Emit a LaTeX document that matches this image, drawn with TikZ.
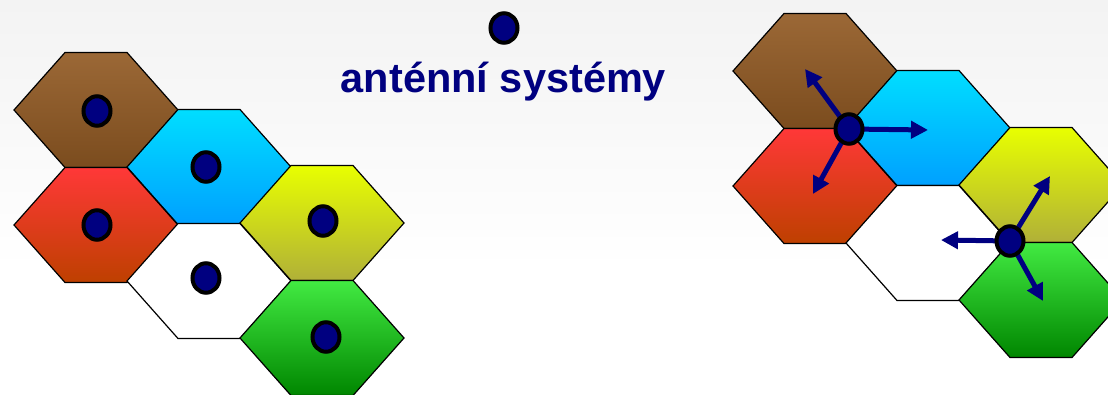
\documentclass[tikz,border=0pt]{standalone}
\usepackage{fontspec}
\setmainfont{Liberation Sans}
\usetikzlibrary{arrows.meta,shapes.geometric}
\definecolor{navy}{RGB}{0,0,128}
\definecolor{brownT}{RGB}{155,104,54}
\definecolor{brownB}{RGB}{123,76,30}
\definecolor{cyanT}{RGB}{0,222,255}
\definecolor{cyanB}{RGB}{0,160,255}
\definecolor{redT}{RGB}{255,56,56}
\definecolor{redB}{RGB}{190,64,0}
\definecolor{yelT}{RGB}{232,255,0}
\definecolor{yelB}{RGB}{176,176,56}
\definecolor{grnT}{RGB}{66,234,66}
\definecolor{grnB}{RGB}{0,134,0}
\definecolor{bgT}{RGB}{243,243,243}
% hexagon: #1 name, #2 centre, #3 top colour, #4 bottom colour
\newcommand\hexcell[4]{%
  \coordinate (#1) at #2;
  \path[hexline, top color=#3, bottom color=#4]
    ([shift={(-82,0)}]#1) -- ([shift={(-31,-57.5)}]#1) -- ([shift={(31,-57.5)}]#1)
    -- ([shift={(82,0)}]#1) -- ([shift={(31,57.5)}]#1) -- ([shift={(-31,57.5)}]#1) -- cycle;
}
\tikzset{
  hexline/.style={draw=black, line width=1.2pt, line join=miter},
  dot/.style={ellipse, draw=black, fill=navy, line width=4pt, minimum width=27pt, minimum height=29.5pt, inner sep=0pt},
  ant/.style={draw=navy, line width=5pt, -{Triangle[length=17pt,width=17pt]}},
  lbl/.style={font=\bfseries\fontsize{41.5}{48}\selectfont, text=navy, anchor=base, inner sep=0pt}
}
\begin{document}
\begin{tikzpicture}[x=1pt,y=-1pt]
\useasboundingbox (0,0) rectangle (1108,395);
\clip (0,0) rectangle (1108,395);
\fill[white] (0,0) rectangle (1108,395);
\shade[top color=bgT, bottom color=white] (0,0) rectangle (1108,270);

% left cluster
\hexcell{Lbrown}{(96,110)}{brownT}{brownB}
\hexcell{Lcyan}{(209,167)}{cyanT}{cyanB}
\hexcell{Lred}{(96,225)}{redT}{redB}
\hexcell{Lwhite}{(209,281)}{white}{white}
\hexcell{Lyel}{(322,223)}{yelT}{yelB}
\hexcell{Lgrn}{(322,338)}{grnT}{grnB}
\node[dot] (dLbrown) at (97,111) {};
\node[dot] (dLcyan) at (206,167) {};
\node[dot] (dLred) at (97,225) {};
\node[dot] (dLwhite) at (206,278) {};
\node[dot] (dLyel) at (323,221) {};
\node[dot] (dLgrn) at (326,337) {};

% legend
\node[dot] (legdot) at (504,28) {};
\node[lbl] (legtext) at (503.5,93) {anténní systémy};

% right cluster
\hexcell{Rbrown}{(815,71)}{brownT}{brownB}
\hexcell{Rcyan}{(928,128)}{cyanT}{cyanB}
\hexcell{Rred}{(815,186)}{redT}{redB}
\hexcell{Rwhite}{(928,243)}{white}{white}
\hexcell{Ryel}{(1041,185)}{yelT}{yelB}
\hexcell{Rgrn}{(1041,300)}{grnT}{grnB}

\coordinate (a1) at (849,129);
\coordinate (a2) at (1010,241);
\coordinate (t11) at (805,69);
\coordinate (t12) at (928,130);
\coordinate (t13) at (813,194);
\coordinate (t21) at (1050,176);
\coordinate (t22) at (941,240);
\coordinate (t23) at (1043,301);
\draw[ant] (a1) -- (t11);
\draw[ant] (a1) -- (t12);
\draw[ant] (a1) -- (t13);
\draw[ant] (a2) -- (t21);
\draw[ant] (a2) -- (t22);
\draw[ant] (a2) -- (t23);
\node[dot] (d1) at (a1) {};
\node[dot] (d2) at (a2) {};
\end{tikzpicture}
\end{document}
